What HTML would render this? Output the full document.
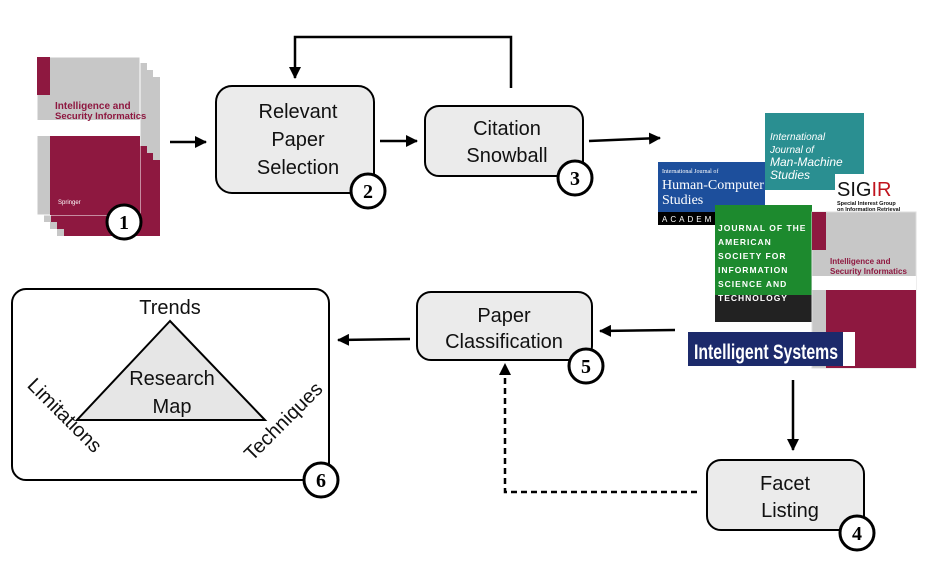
<!DOCTYPE html>
<html><head><meta charset="utf-8"><style>
html,body{margin:0;padding:0;background:#fff;}
svg{display:block;font-family:"Liberation Sans",sans-serif;}
</style></head><body>
<svg width="941" height="572" viewBox="0 0 941 572" xmlns="http://www.w3.org/2000/svg">
<defs>
<marker id="ah" markerWidth="12" markerHeight="12" refX="11" refY="6" orient="auto" markerUnits="userSpaceOnUse">
<path d="M0,0 L12,6 L0,12 z" fill="#000"/></marker>
</defs>
<!-- book stack -->
<g>
<rect x="57" y="77" width="103" height="159" fill="#c7c7c7"/><rect x="64" y="160" width="96" height="76" fill="#8e1840"/>
<rect x="50" y="70" width="103" height="159" fill="#c7c7c7"/><rect x="57" y="153" width="96" height="76" fill="#8e1840"/>
<rect x="44" y="63" width="103" height="159" fill="#c7c7c7"/><rect x="51" y="146" width="96" height="76" fill="#8e1840"/>
<rect x="37" y="57" width="103" height="158" fill="#c7c7c7" stroke="#fff" stroke-width="1"/>
<rect x="37" y="57" width="13" height="38" fill="#8e1840"/>
<rect x="37" y="120" width="103" height="16" fill="#fff"/>
<rect x="50" y="136" width="90" height="79" fill="#8e1840"/>
<text x="55" y="109" font-size="10" font-weight="bold" fill="#8e1840">Intelligence and</text>
<text x="55" y="119" font-size="9.5" font-weight="bold" fill="#8e1840">Security Informatics</text>
<text x="58" y="204" font-size="6" fill="#fff">Springer</text>
</g>
<!-- journal collage -->
<rect x="765" y="113" width="99" height="77" fill="#2a8f91"/>
<text x="770" y="140" font-size="10" font-style="italic" fill="#fff">International</text>
<text x="770" y="153" font-size="10" font-style="italic" fill="#fff">Journal of</text>
<text x="770" y="166" font-size="12" font-style="italic" fill="#fff">Man-Machine</text>
<text x="770" y="179" font-size="12" font-style="italic" fill="#fff">Studies</text>
<rect x="658" y="162" width="107" height="63" fill="#1d4f9c"/>
<rect x="658" y="212" width="107" height="13" fill="#000"/>
<text x="662" y="173" font-size="6" fill="#fff" font-family="Liberation Serif">International Journal of</text>
<text x="662" y="189" font-size="14" fill="#fff" font-family="Liberation Serif">Human-Computer</text>
<text x="662" y="204" font-size="14" fill="#fff" font-family="Liberation Serif">Studies</text>
<text x="662" y="222" font-size="8" fill="#fff" letter-spacing="3">ACADEMI</text>
<rect x="835" y="174" width="85" height="36" fill="#fff"/>
<text x="837" y="196" font-size="20" fill="#111">SIG<tspan fill="#c0141e">IR</tspan></text>
<text x="837" y="205" font-size="5.5" font-weight="bold" fill="#111">Special Interest Group</text>
<text x="837" y="211" font-size="5.5" font-weight="bold" fill="#111">on Information Retrieval</text>
<rect x="715" y="205" width="97" height="117" fill="#1d8a2e"/>
<rect x="715" y="295" width="97" height="27" fill="#222"/>
<g font-size="8.5" font-weight="bold" fill="#fff" letter-spacing="1">
<text x="718" y="231">JOURNAL OF THE</text><text x="718" y="245">AMERICAN</text>
<text x="718" y="259">SOCIETY FOR</text><text x="718" y="273">INFORMATION</text>
<text x="718" y="287">SCIENCE AND</text><text x="718" y="301">TECHNOLOGY</text></g>
<rect x="812" y="212" width="104" height="156" fill="#c7c7c7" stroke="#ddd"/>
<rect x="812" y="212" width="14" height="38" fill="#8e1840"/>
<rect x="812" y="276" width="104" height="14" fill="#fff"/>
<rect x="826" y="290" width="90" height="78" fill="#8e1840"/>
<text x="830" y="264" font-size="8" font-weight="bold" fill="#8e1840">Intelligence and</text>
<text x="830" y="274" font-size="8" font-weight="bold" fill="#8e1840">Security Informatics</text>
<rect x="688" y="332" width="155" height="34" fill="#1c2a6b"/>
<rect x="843" y="332" width="12" height="34" fill="#fff"/>
<text x="694" y="359" font-size="21" font-weight="bold" fill="#fff" textLength="144" lengthAdjust="spacingAndGlyphs">Intelligent Systems</text>
<!-- boxes -->
<g fill="#ebebeb" stroke="#000" stroke-width="2">
<rect x="216" y="86" width="158" height="107" rx="16"/>
<rect x="425" y="106" width="158" height="70" rx="14"/>
<rect x="417" y="292" width="175" height="68" rx="14"/>
<rect x="707" y="460" width="157" height="70" rx="14"/>
</g>
<rect x="12" y="289" width="317" height="191" rx="14" fill="#fff" stroke="#000" stroke-width="2"/>
<g font-size="20" fill="#111" text-anchor="middle">
<text x="298" y="118">Relevant</text><text x="298" y="146">Paper</text><text x="298" y="174">Selection</text>
<text x="507" y="135">Citation</text><text x="507" y="162">Snowball</text>
<text x="504" y="322">Paper</text><text x="504" y="348">Classification</text>
<text x="785" y="490">Facet</text><text x="790" y="517">Listing</text>
</g>
<!-- triangle -->
<polygon points="170,321 77,420 265,420" fill="#e6e6e6" stroke="#000" stroke-width="2"/>
<g font-size="20" fill="#111" text-anchor="middle">
<text x="170" y="314">Trends</text>
<text x="172" y="385">Research</text><text x="172" y="413">Map</text>
<text transform="translate(60,420) rotate(45)">Limitations</text>
<text transform="translate(288,426) rotate(-45)">Techniques</text>
</g>
<!-- circles -->
<g fill="#fff" stroke="#000" stroke-width="3">
<circle cx="124" cy="222" r="17"/><circle cx="368" cy="191" r="17"/><circle cx="575" cy="178" r="17"/>
<circle cx="586" cy="366" r="17"/><circle cx="857" cy="533" r="17"/><circle cx="321" cy="480" r="17"/>
</g>
<g font-size="20" font-weight="bold" fill="#000" text-anchor="middle" font-family="Liberation Serif">
<text x="124" y="229">1</text><text x="368" y="198">2</text><text x="575" y="185">3</text>
<text x="586" y="373">5</text><text x="857" y="540">4</text><text x="321" y="487">6</text>
</g>
<!-- arrows -->
<g stroke="#000" stroke-width="2.5" fill="none">
<line x1="170" y1="142" x2="206" y2="142" marker-end="url(#ah)"/>
<line x1="380" y1="141" x2="417" y2="141" marker-end="url(#ah)"/>
<line x1="589" y1="141" x2="660" y2="138" marker-end="url(#ah)"/>
<polyline points="511,88 511,37 295,37 295,78" marker-end="url(#ah)"/>
<line x1="675" y1="330" x2="600" y2="331" marker-end="url(#ah)"/>
<line x1="410" y1="339" x2="338" y2="340" marker-end="url(#ah)"/>
<line x1="793" y1="380" x2="793" y2="450" marker-end="url(#ah)"/>
<polyline points="697,492 505,492 505,364" stroke-dasharray="6,4" marker-end="url(#ah)"/>
</g>
</svg>
</body></html>
